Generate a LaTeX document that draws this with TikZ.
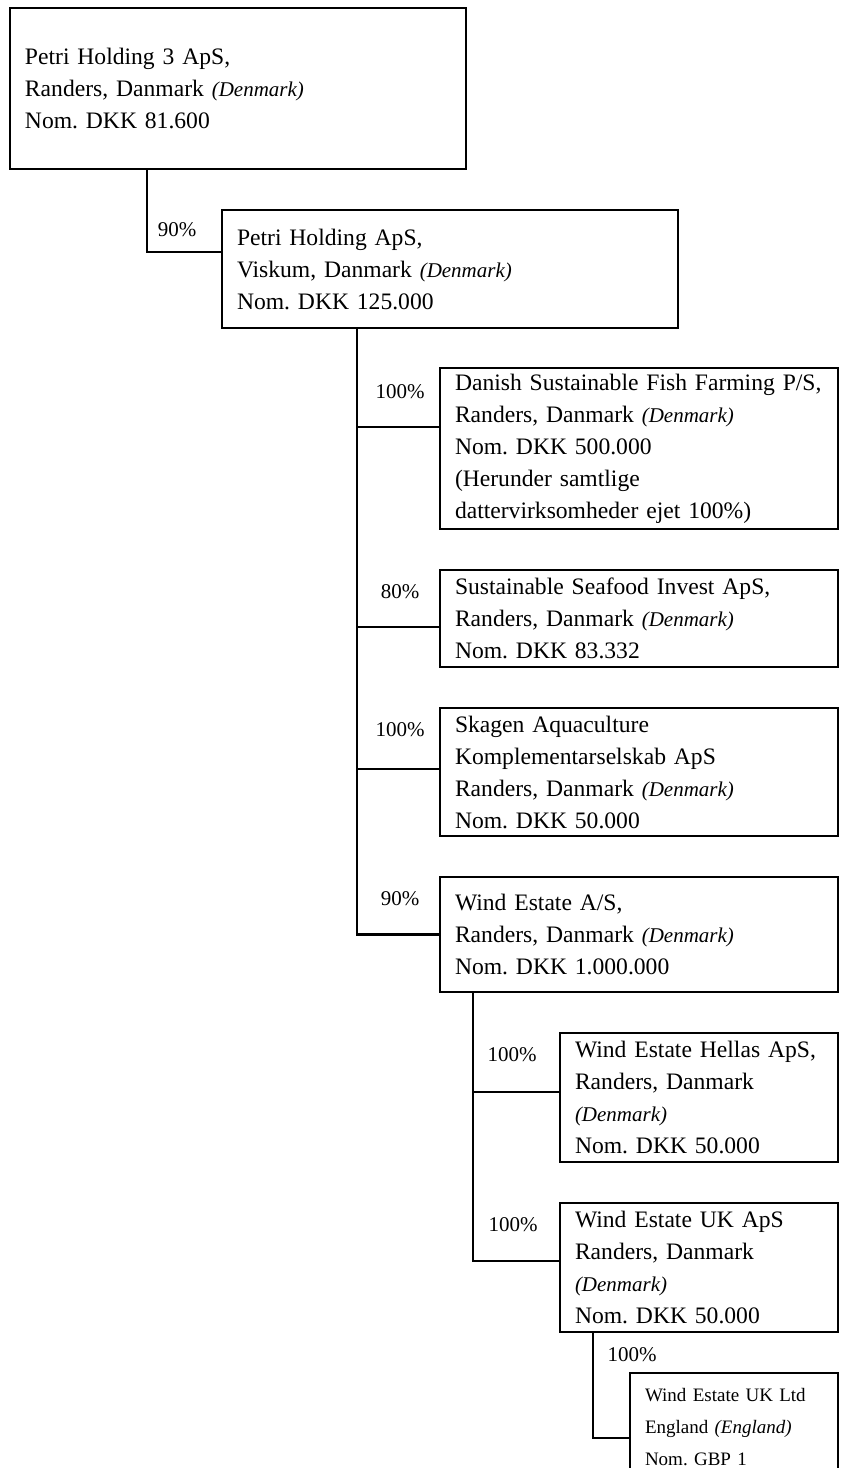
\documentclass[tikz,border=0pt]{standalone}
\usepackage{fontspec}
\setmainfont{Liberation Serif}
\frenchspacing
\usetikzlibrary{positioning}
\newcommand*{\cty}[1]{{\fontsize{10.5}{16}\selectfont\itshape (#1)}}
\tikzstyle{company} = [draw, rectangle, line width=1.1pt, outer sep=0pt, anchor=north west, align=left, inner xsep=7.5pt, inner ysep=0pt, font=\fontsize{11.8}{16}\selectfont]
\tikzstyle{wide} = [company, text width=213pt]
\tikzstyle{mid} = [company, text width=184pt]
\tikzstyle{narrow} = [company, text width=124pt]
\tikzstyle{tiny} = [company, text width=89pt, draw=none, font=\fontsize{9.5}{16}\selectfont]
\tikzstyle{share} = [font=\fontsize{10.5}{12}\selectfont, inner sep=0pt]
\tikzstyle{link} = [line width=1.1pt]

\begin{document}
\begin{tikzpicture}[x=0.5pt, y=-0.5pt, node distance=20.5pt]
    \useasboundingbox (0,0) rectangle (864,1468);

    % Owners.
    \node (top) [wide, minimum height=80.5pt] at (10,8)
        {Petri Holding 3 ApS,\\ Randers, Danmark \cty{Denmark}\\ Nom. DKK 81.600};
    \node (hold) [wide, minimum height=59pt] at (222,210)
        {Petri Holding ApS,\\ Viskum, Danmark \cty{Denmark}\\ Nom. DKK 125.000};

    % Subsidiaries.
    \node (dsff) [mid, minimum height=80.5pt] at (440,368)
        {Danish Sustainable Fish Farming P/S,\\ Randers, Danmark \cty{Denmark}\\ Nom. DKK 500.000\\ (Herunder samtlige\\ dattervirksomheder ejet 100\%)};
    \node (ssi) [mid, minimum height=48.5pt, below=of dsff.south west, anchor=north west]
        {Sustainable Seafood Invest ApS,\\ Randers, Danmark \cty{Denmark}\\ Nom. DKK 83.332};
    \node (skagen) [mid, minimum height=64pt, below=of ssi.south west, anchor=north west]
        {Skagen Aquaculture\\ Komplementarselskab ApS\\ Randers, Danmark \cty{Denmark}\\ Nom. DKK 50.000};
    \node (wind) [mid, minimum height=57.5pt, below=of skagen.south west, anchor=north west]
        {Wind Estate A/S,\\ Randers, Danmark \cty{Denmark}\\ Nom. DKK 1.000.000};

    \node (hellas) [narrow, minimum height=64.5pt] at (560,1033)
        {Wind Estate Hellas ApS,\\ Randers, Danmark\\ \cty{Denmark}\\ Nom. DKK 50.000};
    \node (ukaps) [narrow, minimum height=64.5pt, below=of hellas.south west, anchor=north west]
        {Wind Estate UK ApS\\ Randers, Danmark\\ \cty{Denmark}\\ Nom. DKK 50.000};

    % Open at the foot of the page.
    \node (ukltd) [tiny, minimum height=54.5pt] at (630,1373)
        {Wind Estate UK Ltd\\ England {\itshape (England)}\\ Nom. GBP 1};
    \draw [link] (ukltd.south west) |- (ukltd.north east) -- (ukltd.south east);

    % Shares.
    \node (p2) [share] at (177,230) {90\%};
    \node (p3) [share] at (400,392) {100\%};
    \node (p4) [share] at (400,592) {80\%};
    \node (p5) [share] at (400,730) {100\%};
    \node (p6) [share] at (400,899) {90\%};
    \node (p7) [share] at (512,1055) {100\%};
    \node (p8) [share] at (513,1225) {100\%};
    \node (p9) [share] at (632,1355) {100\%};

    % Lines.
    \draw [link] ([xshift=68.5pt]top.south west) |- ([yshift=8.5pt]hold.west);
    \foreach \c/\s in {dsff/10.75, ssi/-4.25, skagen/1.5, wind/0} {
        \draw [link] ([xshift=67.5pt]hold.south west) |- ([yshift=\s pt]\c.west);
    }
    \foreach \c/\s in {hellas/2.75, ukaps/3.25} {
        \draw [link] ([xshift=16.5pt]wind.south west) |- ([yshift=\s pt]\c.west);
    }
    \draw [link] ([xshift=16.5pt]ukaps.south west) |- ([yshift=-5.25pt]ukltd.west);
\end{tikzpicture}
\end{document}
